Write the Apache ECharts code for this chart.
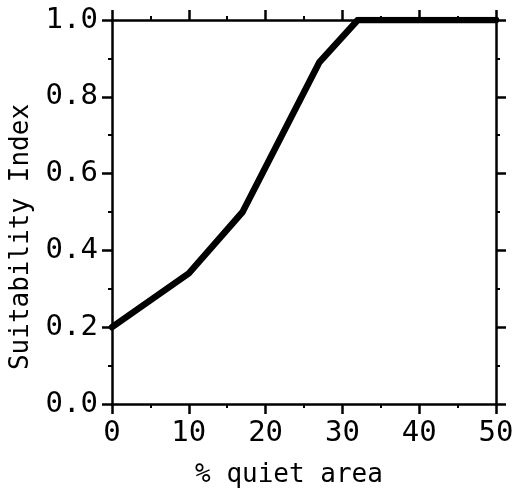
<!DOCTYPE html>
<html>
<head>
<meta charset="utf-8">
<script src="https://cdn.jsdelivr.net/npm/echarts@6/dist/echarts.min.js"></script>
<style>
html,body{margin:0;padding:0;background:#fff;}
#chart{width:523px;height:501px;}
</style>
</head>
<body>
<div id="chart"></div>
<script>
const quietArea = [0, 10, 17, 27, 32, 50];
const suitability = [0.2, 0.34, 0.5, 0.89, 1.0, 1.0];
const xTicks = [0, 10, 20, 30, 40, 50];
const yTicks = [0.0, 0.2, 0.4, 0.6, 0.8, 1.0];
const xTitle = '% quiet area';
const yTitle = 'Suitability Index';

const FONT = 'DejaVu Sans Mono';
const chart = echarts.init(document.getElementById('chart'));
const lineStyle = {color: '#000', width: 2.5};
const axisLine = {show: true, onZero: false, lineStyle: lineStyle};
const tick = {show: true, inside: false, length: 10, lineStyle: {color: '#000', width: 2.5}};
const minor = {show: true, splitNumber: 2, length: 4, lineStyle: {color: '#000', width: 2}};
chart.setOption({
  animation: false,
  backgroundColor: '#fff',
  grid: {left: 112, right: 27, top: 20, bottom: 97},
  xAxis: [{
    type: 'value', position: 'bottom', min: 0, max: 50, interval: 10,
    axisLine: axisLine,
    axisTick: tick, minorTick: minor, splitLine: {show: false},
    axisLabel: {color: '#000', fontFamily: FONT, fontSize: 29, margin: 15,
      formatter: v => (xTicks.indexOf(v) >= 0 ? String(v) : '')},
    name: xTitle, nameLocation: 'middle', nameGap: 58,
    nameTextStyle: {color: '#000', fontFamily: FONT, fontSize: 26, padding: [0, 30, 0, 0]}
  }, {
    type: 'value', position: 'top', min: 0, max: 50, interval: 10,
    axisLine: axisLine,
    axisTick: tick, minorTick: minor, splitLine: {show: false},
    axisLabel: {show: false}
  }],
  yAxis: [{
    type: 'value', position: 'left', min: 0, max: 1, interval: 0.2,
    axisLine: axisLine,
    axisTick: tick, minorTick: minor, splitLine: {show: false},
    axisLabel: {color: '#000', fontFamily: FONT, fontSize: 29, margin: 14,
      formatter: v => {
        const t = yTicks.find(y => Math.abs(y - v) < 1e-9);
        return t === undefined ? '' : t.toFixed(1);
      }},
    name: yTitle, nameLocation: 'middle', nameGap: 74,
    nameTextStyle: {color: '#000', fontFamily: FONT, fontSize: 26, padding: [0, 50, 0, 0]}
  }, {
    type: 'value', position: 'right', min: 0, max: 1, interval: 0.2,
    axisLine: axisLine,
    axisTick: tick, minorTick: minor, splitLine: {show: false},
    axisLabel: {show: false}
  }],
  series: [{
    type: 'line', xAxisIndex: 0, yAxisIndex: 0,
    data: quietArea.map((x, i) => [x, suitability[i]]),
    showSymbol: false, symbol: 'none',
    lineStyle: {color: '#000', width: 6.5, join: 'round', cap: 'round'}
  }]
});
</script>
</body>
</html>
